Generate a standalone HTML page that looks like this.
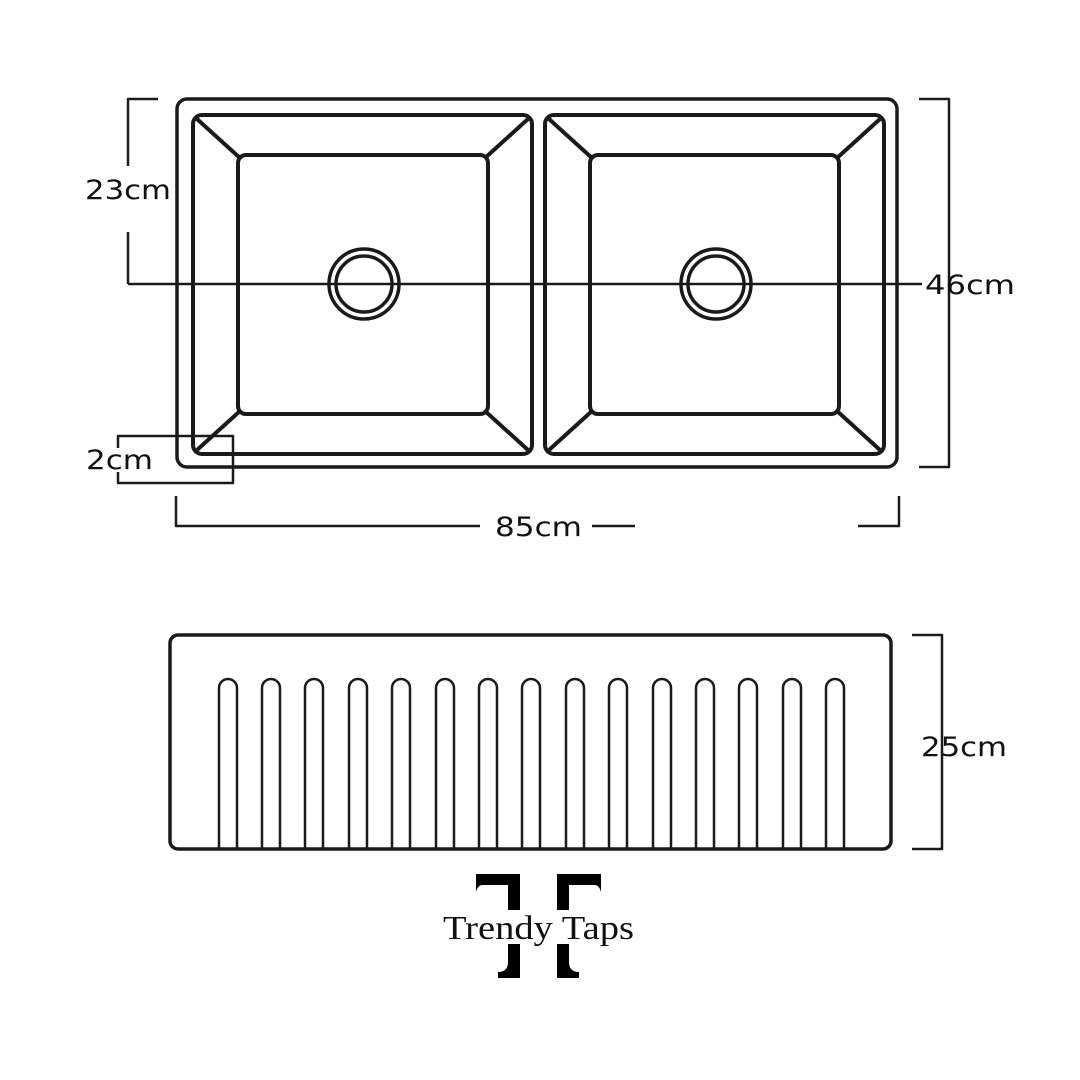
<!DOCTYPE html>
<html><head><style>body{margin:0;background:#fff}svg{display:block}</style></head><body>
<svg width="1080" height="1080" viewBox="0 0 1080 1080" xmlns="http://www.w3.org/2000/svg">
<g fill="none" stroke="#1a1a1a" stroke-linejoin="round">
<rect x="177" y="99" width="720" height="368" rx="10" stroke-width="3.5"/>
<g stroke-width="4">
<rect x="193" y="115" width="339" height="339" rx="9"/>
<rect x="238" y="155" width="250" height="259" rx="8"/>
<path d="M197 119L240 158M528 119L485 158M197 450L240 411M528 450L485 411"/>
<rect x="545" y="115" width="339" height="339" rx="9"/>
<rect x="590" y="155" width="249" height="259" rx="8"/>
<path d="M549 119L592 158M880 119L837 158M549 450L592 411M880 450L837 411"/>
</g>
<circle cx="364" cy="284" r="35" stroke-width="3.5"/>
<circle cx="364" cy="284" r="28" stroke-width="3.5"/>
<circle cx="716" cy="284" r="35" stroke-width="3.5"/>
<circle cx="716" cy="284" r="28" stroke-width="3.5"/>
<g stroke-width="2.5">
<path d="M128 284H922"/>
<path d="M158 99H128V166M128 232V284"/>
<path d="M919 99H949V467H919"/>
<path d="M176 496V526H480M592 526H635M858 526H899V496"/>
<path d="M118 448V436H233V483H118V472"/>
<path d="M912 635H942V849H912"/>
</g>
<rect x="170" y="635" width="721" height="214" rx="8" stroke-width="3.5"/>
<g stroke-width="2.5">
<path d="M219 849V688a9 9 0 0 1 18 0V849"/>
<path d="M262 849V688a9 9 0 0 1 18 0V849"/>
<path d="M305 849V688a9 9 0 0 1 18 0V849"/>
<path d="M349 849V688a9 9 0 0 1 18 0V849"/>
<path d="M392 849V688a9 9 0 0 1 18 0V849"/>
<path d="M436 849V688a9 9 0 0 1 18 0V849"/>
<path d="M479 849V688a9 9 0 0 1 18 0V849"/>
<path d="M522 849V688a9 9 0 0 1 18 0V849"/>
<path d="M566 849V688a9 9 0 0 1 18 0V849"/>
<path d="M609 849V688a9 9 0 0 1 18 0V849"/>
<path d="M653 849V688a9 9 0 0 1 18 0V849"/>
<path d="M696 849V688a9 9 0 0 1 18 0V849"/>
<path d="M739 849V688a9 9 0 0 1 18 0V849"/>
<path d="M783 849V688a9 9 0 0 1 18 0V849"/>
<path d="M826 849V688a9 9 0 0 1 18 0V849"/>
</g>
</g>
<g fill="#000">
<path d="M476 874H520V978H498V972Q508 972 508 962V885H482Q478 885 476 892Z"/>
<path d="M601 874H557V978H579V972Q569 972 569 962V885H595Q599 885 601 892Z"/>
</g>
<rect x="440" y="910" width="200" height="34" fill="#fff"/>
<text x="443" y="939" textLength="191" lengthAdjust="spacingAndGlyphs" font-family="Liberation Serif, serif" font-size="34" fill="#111">Trendy Taps</text>
<g font-family="DejaVu Sans, Liberation Sans, sans-serif" font-size="27" fill="#111" lengthAdjust="spacingAndGlyphs">
<text x="85" y="199" textLength="86" lengthAdjust="spacingAndGlyphs">23cm</text>
<text x="925" y="294" textLength="90" lengthAdjust="spacingAndGlyphs">46cm</text>
<text x="86" y="469" textLength="67" lengthAdjust="spacingAndGlyphs">2cm</text>
<text x="495" y="536" textLength="87" lengthAdjust="spacingAndGlyphs">85cm</text>
<text x="921" y="756" textLength="86" lengthAdjust="spacingAndGlyphs">25cm</text>
</g>
</svg>
</body></html>
